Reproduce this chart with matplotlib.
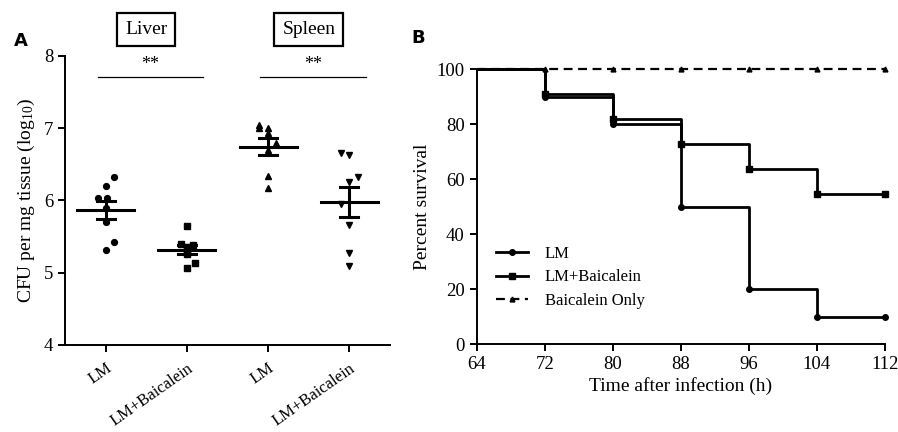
import numpy as np
import matplotlib
matplotlib.use("Agg")
import matplotlib.pyplot as plt

plt.rcParams['font.family'] = ['Liberation Serif', 'DejaVu Serif']
plt.rcParams['mathtext.fontset'] = 'custom'
plt.rcParams['mathtext.rm'] = 'Liberation Serif'
plt.rcParams['mathtext.it'] = 'Liberation Serif:italic'

# ---------------- Data: panel A ----------------
categories = ["LM", "LM+Baicalein", "LM", "LM+Baicalein"]
liver_lm = [6.32, 6.20, 6.04, 6.03, 5.90, 5.70, 5.42, 5.31]
liver_lmb = [5.65, 5.40, 5.38, 5.35, 5.30, 5.26, 5.13, 5.07]
spleen_lm = [7.04, 7.00, 7.00, 6.93, 6.79, 6.70, 6.34, 6.17]
spleen_lmb = [6.66, 6.63, 6.32, 6.26, 5.95, 5.66, 5.27, 5.09]
groups = [liver_lm, liver_lmb, spleen_lm, spleen_lmb]
jitter = [
    [0.10, 0.0, -0.10, 0.02, 0.0, 0.0, 0.10, 0.0],
    [0.0, -0.07, 0.07, 0.0, 0.0, 0.0, 0.10, 0.0],
    [-0.11, -0.11, 0.0, 0.0, 0.10, 0.0, 0.0, 0.0],
    [-0.1, 0.0, 0.10, 0.0, -0.1, 0.0, 0.0, 0.0],
]
markers = ['o', 's', '^', 'v']
msizes = [4.2, 4.2, 4.0, 4.0]
organs = ["Liver", "Spleen"]
sig_labels = ["**", "**"]

# ---------------- Data: panel B ----------------
times = [64, 72, 80, 88, 96, 104, 112]
surv_lm = [100, 90, 80, 50, 20, 10, 10]
surv_lmb = [100, 90.9, 81.8, 72.7, 63.6, 54.5, 54.5]
surv_b = [100, 100, 100, 100, 100, 100, 100]
xticks_b = [64, 72, 80, 88, 96, 104, 112]
yticks_b = [0, 20, 40, 60, 80, 100]

fig = plt.figure(figsize=(8.98, 4.32), dpi=100)

# ---------------- Panel A ----------------
axA = fig.add_axes([0.0724, 0.2014, 0.3619, 0.669])
x = np.arange(len(groups))
for i, g in enumerate(groups):
    g = np.array(g)
    xs = x[i] + np.array(jitter[i][:len(g)])
    axA.plot(xs, g, linestyle='none', marker=markers[i], color='black',
             markersize=msizes[i], clip_on=False, zorder=3)
    m = g.mean()
    sem = g.std(ddof=1) / np.sqrt(len(g))
    axA.plot([x[i] - 0.35, x[i] + 0.35], [m, m], color='black', lw=2.2, zorder=4)
    axA.plot([x[i], x[i]], [m - sem, m + sem], color='black', lw=2.2, zorder=4)
    for v in (m - sem, m + sem):
        axA.plot([x[i] - 0.11, x[i] + 0.11], [v, v], color='black', lw=2.2, zorder=4)

axA.set_xlim(-0.5, 3.5)
axA.set_ylim(4, 8)
axA.set_yticks([4, 5, 6, 7, 8])
axA.set_xticks(x)
axA.set_xticklabels(categories, rotation=35, ha='right', rotation_mode='anchor')
axA.tick_params(axis='both', direction='out', length=5, width=1.4, labelsize=13.5)
axA.tick_params(axis='x', pad=6, labelsize=12)
for s in ['top', 'right']:
    axA.spines[s].set_visible(False)
for s in ['left', 'bottom']:
    axA.spines[s].set_linewidth(1.4)
axA.set_ylabel('CFU per mg tissue (log$_{10}$)', fontsize=14, labelpad=5)

# significance bars and organ boxes
for k in range(2):
    x0, x1 = x[2 * k] - 0.1, x[2 * k + 1] + 0.2
    axA.plot([x0, x1], [7.71, 7.71], color='black', lw=0.9, clip_on=False)
    axA.text((x0 + x1) / 2, 7.76, sig_labels[k], ha='center', va='bottom', fontsize=13)
    axA.text((x0 + x1) / 2 - 0.05, 8.37, organs[k], ha='center', va='center', fontsize=14,
             bbox=dict(boxstyle='square,pad=0.4', fc='white', ec='black', lw=1.6),
             clip_on=False)

fig.text(0.015, 0.905, 'A', fontsize=13, fontweight='bold', family='DejaVu Sans', va='center')
fig.text(0.458, 0.912, 'B', fontsize=13, fontweight='bold', family='DejaVu Sans', va='center')

# ---------------- Panel B ----------------
axB = fig.add_axes([0.5308, 0.2037, 0.4547, 0.6359])
axB.step(times, surv_lm, where='post', color='black', lw=2.0, marker='o', markersize=4,
         markevery=list(range(1, len(times))), clip_on=False, label='LM', zorder=3)
axB.step(times, surv_lmb, where='post', color='black', lw=2.0, marker='s', markersize=4,
         markevery=list(range(1, len(times))), clip_on=False, label='LM+Baicalein', zorder=3)
axB.plot(times, surv_b, color='black', lw=1.6, linestyle=(0, (4, 2.5)), marker='^',
         markersize=3.5, markevery=list(range(1, len(times))), clip_on=False,
         label='Baicalein Only', zorder=2)
axB.set_xlim(64, 112)
axB.set_ylim(0, 100)
axB.set_xticks(xticks_b)
axB.set_yticks(yticks_b)
axB.tick_params(axis='both', direction='out', length=5, width=1.4, labelsize=13.5)
for s in ['top', 'right']:
    axB.spines[s].set_visible(False)
for s in ['left', 'bottom']:
    axB.spines[s].set_linewidth(1.4)
axB.set_ylabel('Percent survival', fontsize=14, labelpad=4)
axB.set_xlabel('Time after infection (h)', fontsize=14, labelpad=3)
axB.legend(loc='lower left', bbox_to_anchor=(0.02, 0.085), frameon=False, fontsize=12,
           handlelength=1.9, labelspacing=0.45, handletextpad=1.0, borderpad=0.2)

fig.savefig('out.png', dpi=100)
